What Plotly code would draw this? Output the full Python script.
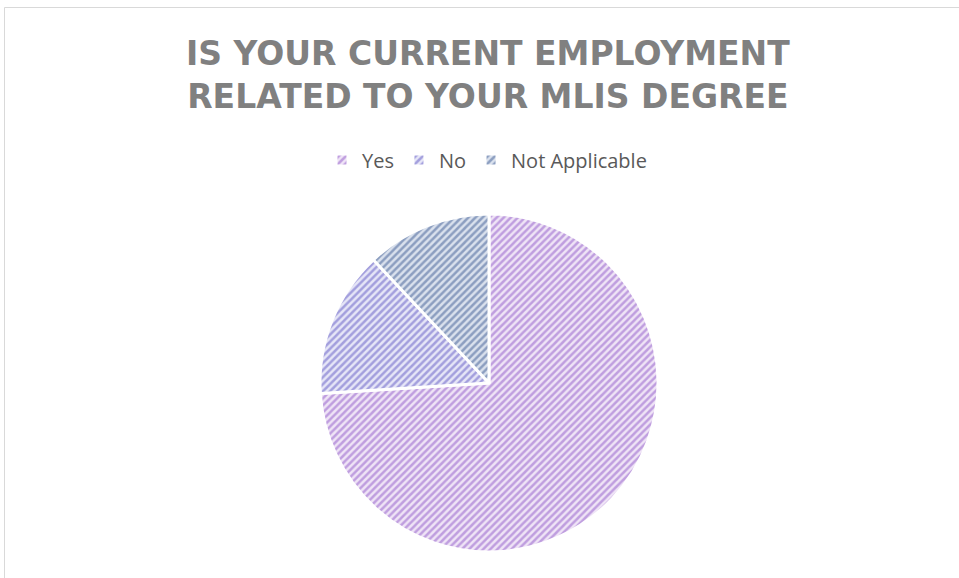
import plotly.graph_objects as go

categories = ["Yes", "No", "Not Applicable"]
values = [37, 7, 6]
bg_colors = ["#efe4f6", "#e6e6f7", "#dae1ed"]
fg_colors = ["#9058c8", "#6058c4", "#3d5c94"]

W, H = 959, 578
cx, cy, r = 489, 383, 169

fig = go.Figure(go.Pie(
    labels=categories,
    values=values,
    sort=False,
    direction="clockwise",
    rotation=0,
    textinfo="none",
    hoverinfo="label+percent",
    marker=dict(
        colors=bg_colors,
        line=dict(color="white", width=3),
        pattern=dict(shape="/", fgcolor=fg_colors, bgcolor=bg_colors,
                     size=5, solidity=0.5, fillmode="overlay"),
    ),
    domain=dict(x=[(cx - r) / W, (cx + r) / W], y=[(H - cy - r) / H, (H - cy + r) / H]),
))

fig.add_shape(type="rect", xref="paper", yref="paper",
              x0=4.5 / W, y0=-0.1, x1=1.1, y1=1 - 7.5 / H,
              line=dict(color="#d9d9d9", width=1), fillcolor="rgba(0,0,0,0)")

fig.add_annotation(text="IS YOUR CURRENT EMPLOYMENT<br>RELATED TO YOUR MLIS DEGREE",
                   xref="paper", yref="paper", x=488 / W, y=1 - 75 / H,
                   xanchor="center", yanchor="middle", showarrow=False,
                   font=dict(family="DejaVu Sans", size=33, color="#808080", weight="bold"),
                   align="center")

fig.update_layout(
    width=W, height=H,
    margin=dict(l=0, r=0, t=0, b=0),
    paper_bgcolor="white",
    plot_bgcolor="white",
    showlegend=True,
    legend=dict(orientation="h", x=487 / W, xanchor="center", y=1 - 160 / H, yanchor="middle",
                font=dict(family="Open Sans", size=20, color="#595959"),
                itemwidth=30, traceorder="normal"),
)

fig.write_html("out.html", config={"displayModeBar": False},
               post_script="document.body.style.margin='0';")
